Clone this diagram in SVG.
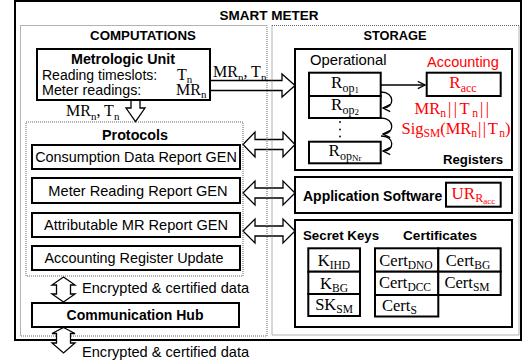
<svg xmlns="http://www.w3.org/2000/svg" width="523" height="364" viewBox="0 0 523 364">
<style>
.s{font-family:"Liberation Sans",Arial,sans-serif;fill:#000}
.b{font-weight:bold}
.m{font-family:"Liberation Serif","Times New Roman",serif;fill:#000}
.red{fill:#ff0000}
.c{text-anchor:middle}
.box{fill:#fff;stroke:#000;stroke-width:2}
.cell{fill:#fff;stroke:#000;stroke-width:2}
.dot{fill:none;stroke:#666;stroke-width:1;stroke-dasharray:1 1}
.arr{fill:#fff;stroke:#000;stroke-width:1.3;stroke-linejoin:miter}
.ln{fill:none;stroke:#000;stroke-width:1.3}
</style>
<defs>
<marker id="ah" viewBox="0 0 10 10" refX="9" refY="5" markerWidth="9" markerHeight="9" markerUnits="userSpaceOnUse" orient="auto">
<path d="M1,1 L9,5 L1,9" fill="none" stroke="#000" stroke-width="1.4"/>
</marker>
</defs>
<rect id="rbg" x="0" y="0" width="523" height="364" fill="#fff"/>

<g id="smart-meter">
<rect x="15" y="1" width="506" height="339" fill="#fff" stroke="#000" stroke-width="2"/>
<text class="s b c" x="269" y="20" font-size="13.5">SMART METER</text>
</g>

<g id="connectors">
<polygon class="arr" points="210,80.5 282,80.5 282,74 295,85.5 282,97 282,90.5 210,90.5"/>
<polygon class="arr" points="131,100 140,100 140,108 145,108 135.5,121.5 126,108 131,108"/>
<polygon class="arr" points="243,144.5 255,132 255,139.5 283,139.5 283,132 295,144.5 283,157 283,149.5 255,149.5 255,157"/>
<polygon class="arr" points="243,193 255,181 255,188 283,188 283,181 295,193 283,205 283,198 255,198 255,205"/>
<polygon class="arr" points="243,231 255,219 255,226 283,226 283,219 295,231 283,243 283,236 255,236 255,243"/>
<polygon class="arr" points="63.5,277 75,285 70.5,285 70.5,294 75,294 63.5,302 52,294 56.5,294 56.5,285 52,285"/>
</g>

<g id="computations">
<rect class="dot" x="20.5" y="25.5" width="246.5" height="310.5"/>
<text class="s b c" x="143" y="40" font-size="13.3">COMPUTATIONS</text>
</g>
<g id="storage">
<rect class="dot" x="272" y="25.5" width="247" height="309.5"/>
<text class="s b c" x="395" y="40" font-size="12.8">STORAGE</text>
</g>

<g id="metrologic-unit">
<rect class="box" x="37" y="49" width="173" height="51"/>
<text class="s b c" x="123" y="63.5" font-size="14.3">Metrologic Unit</text>
<text class="s" x="42" y="80" font-size="14">Reading timeslots:</text>
<text class="s" x="42" y="95" font-size="14.3">Meter readings:</text>
<text class="m" x="177" y="79.5" font-size="16">T<tspan font-size="11" dy="3">n</tspan></text>
<text class="m" x="176" y="95" font-size="16">MR<tspan font-size="11" dy="3">n</tspan></text>
</g>
<text class="m" x="213" y="77" font-size="16">MR<tspan font-size="11" dy="3.5">n</tspan><tspan dy="-3.5">, T</tspan><tspan font-size="11" dy="3.5">n</tspan></text>
<text class="m" x="66" y="116" font-size="16">MR<tspan font-size="11" dy="3.5">n</tspan><tspan dy="-3.5">, T</tspan><tspan font-size="11" dy="3.5">n</tspan></text>

<g id="protocols">
<rect class="dot" x="26" y="122" width="217" height="154"/>
<text class="s b c" x="135" y="139.5" font-size="14.3">Protocols</text>
</g>
<g id="consumption-data-report-gen">
<rect class="box" x="32" y="145" width="208" height="24"/>
<text class="s c" x="136" y="162.2" font-size="14.4">Consumption Data Report GEN</text>
</g>
<g id="meter-reading-report-gen">
<rect class="box" x="32" y="178" width="208" height="25"/>
<text class="s c" x="138" y="195.7" font-size="14.6">Meter Reading Report GEN</text>
</g>
<g id="attributable-mr-report-gen">
<rect class="box" x="32" y="213" width="208" height="24"/>
<text class="s c" x="136" y="230.2" font-size="14.6">Attributable MR Report GEN</text>
</g>
<g id="accounting-register-update">
<rect class="box" x="32" y="246" width="208" height="24"/>
<text class="s c" x="134" y="263.2" font-size="14.4">Accounting Register Update</text>
</g>
<text class="s" x="82" y="293" font-size="14.6">Encrypted &amp; certified data</text>
<g id="communication-hub">
<rect class="box" x="32" y="303" width="207" height="24"/>
<text class="s b c" x="135" y="320" font-size="14">Communication Hub</text>
</g>

<g id="registers">
<rect class="box" x="295" y="49" width="217" height="121"/>
<text class="s" x="310" y="65" font-size="14.8">Operational</text>
<text class="s red" x="427" y="67" font-size="14.5">Accounting</text>
<text class="s b" x="443" y="163.5" font-size="13.2">Registers</text>
</g>
<g id="r-op1">
<rect class="cell" x="309" y="72.7" width="71.7" height="23.3"/>
<text class="m c" x="345" y="88" font-size="17">R<tspan font-size="12" dy="3.5">op</tspan><tspan font-size="9" dy="1.5">1</tspan></text>
</g>
<g id="r-op2">
<rect class="cell" x="309" y="96" width="71.7" height="22"/>
<text class="m c" x="345" y="110" font-size="17">R<tspan font-size="12" dy="3.5">op</tspan><tspan font-size="9" dy="1.5">2</tspan></text>
</g>
<g id="r-dots">
<circle cx="340" cy="122" r="0.9" fill="#000"/>
<circle cx="340" cy="129.5" r="0.9" fill="#000"/>
<circle cx="340" cy="136.5" r="0.9" fill="#000"/>
</g>
<g id="r-opnr">
<rect class="cell" x="309" y="141.7" width="71.7" height="21.6"/>
<text class="m c" x="345" y="156" font-size="17">R<tspan font-size="12" dy="3.5">op</tspan><tspan font-size="9" dy="1.5">Nr</tspan></text>
</g>
<g id="r-acc">
<rect class="cell" x="426.7" y="72.7" width="74" height="23.3"/>
<text class="m c red" x="463" y="88" font-size="17">R<tspan font-size="12" dy="3.5">acc</tspan></text>
</g>
<g id="register-connectors">
<line class="ln" x1="381" y1="85" x2="425" y2="85" marker-end="url(#ah)"/>
<path class="ln" d="M381,92 C395,92 395,108 383,108" marker-end="url(#ah)"/>
<path class="ln" d="M381,118 C395,118 395,134 383,134" marker-end="url(#ah)"/>
<path class="ln" d="M381,136 C395,136 395,151 383,151" marker-end="url(#ah)"/>
</g>
<text class="m c red" x="453" y="113.5" font-size="16.5">MR<tspan font-size="11.5" dy="3.5">n</tspan><tspan dy="-3.5" dx="2" letter-spacing="2.5">||T</tspan><tspan font-size="11.5" dy="3.5">n</tspan><tspan dy="-3.5" dx="2" letter-spacing="2.5">||</tspan></text>
<text class="m c red" x="456" y="133.5" font-size="16.5">Sig<tspan font-size="11.5" dy="3.5">SM</tspan><tspan dy="-3.5">(MR</tspan><tspan font-size="11.5" dy="3.5">n</tspan><tspan dy="-3.5" dx="1" letter-spacing="1.5">||T</tspan><tspan font-size="11.5" dy="3.5">n</tspan><tspan dy="-3.5">)</tspan></text>

<g id="application-software">
<rect class="box" x="295" y="177" width="217" height="36"/>
<text class="s b" x="303" y="200.5" font-size="14">Application Software</text>
</g>
<g id="ur-racc">
<rect class="cell" x="446" y="182.7" width="54.7" height="24"/>
<text class="m red" x="451.5" y="199.3" font-size="17">UR<tspan font-size="12" dy="3">R</tspan><tspan font-size="9" dy="1.5">acc</tspan></text>
</g>

<g id="keys-certificates">
<rect class="box" x="295" y="220" width="217" height="107"/>
<text class="s b" x="303" y="240" font-size="13.3">Secret Keys</text>
<text class="s b" x="403" y="240" font-size="13.6">Certificates</text>
</g>
<g id="k-ihd">
<rect class="cell" x="308.3" y="248.3" width="51.7" height="23.4"/>
<text class="m c" x="334" y="266" font-size="16.5">K<tspan font-size="11.5" dy="3">IHD</tspan></text>
</g>
<g id="k-bg">
<rect class="cell" x="308.3" y="271.7" width="51.7" height="22.3"/>
<text class="m c" x="334" y="288.5" font-size="16.5">K<tspan font-size="11.5" dy="3">BG</tspan></text>
</g>
<g id="sk-sm">
<rect class="cell" x="308.3" y="294" width="51.7" height="22"/>
<text class="m c" x="334" y="310" font-size="16.5">SK<tspan font-size="11.5" dy="3">SM</tspan></text>
</g>
<g id="cert-dno">
<rect class="cell" x="375" y="248.3" width="63.3" height="23.4"/>
<text class="m c" x="406" y="265.5" font-size="16.5">Cert<tspan font-size="11.5" dy="3">DNO</tspan></text>
</g>
<g id="cert-bg">
<rect class="cell" x="438.3" y="248.3" width="62.4" height="23.4"/>
<text class="m c" x="468" y="265.5" font-size="16.5">Cert<tspan font-size="11.5" dy="3">BG</tspan></text>
</g>
<g id="cert-dcc">
<rect class="cell" x="375" y="271.7" width="63.3" height="23.3"/>
<text class="m c" x="405" y="288" font-size="16.5">Cert<tspan font-size="11.5" dy="3">DCC</tspan></text>
</g>
<g id="cert-sm">
<rect class="cell" x="438.3" y="271.7" width="62.4" height="23.3"/>
<text class="m c" x="467" y="288" font-size="16.5">Cert<tspan font-size="11.5" dy="3">SM</tspan></text>
</g>
<g id="cert-s">
<rect class="cell" x="375" y="295" width="63.3" height="21.5"/>
<text class="m" x="382" y="310.5" font-size="16.5">Cert<tspan font-size="11.5" dy="3">S</tspan></text>
</g>

<g id="connectors-bottom">
<polygon class="arr" points="63.5,327.5 75,333.5 70.5,333.5 70.5,343 75,343 63.5,353 52,343 56.5,343 56.5,333.5 52,333.5"/>
</g>
<text class="s" x="82" y="357" font-size="14.6">Encrypted &amp; certified data</text>
</svg>
